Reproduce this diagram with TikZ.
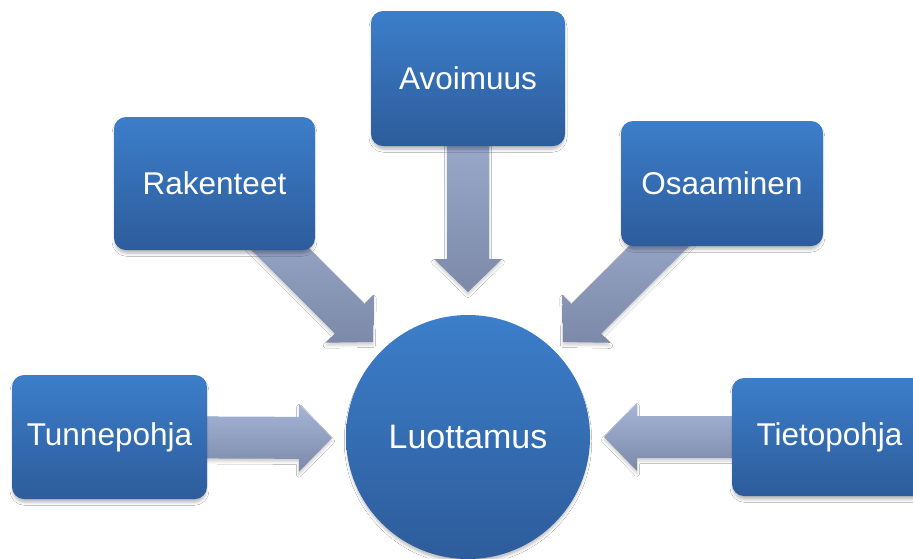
\documentclass[tikz,border=0pt]{standalone}
\usepackage{fontspec}
\setmainfont{Liberation Sans}
\usetikzlibrary{calc,backgrounds,shadows.blur}
\definecolor{boxtop}{RGB}{60,126,202}
\definecolor{boxbot}{RGB}{45,92,155}
\definecolor{arrtop}{RGB}{166,181,216}
\definecolor{arrbot}{RGB}{124,137,168}
\tikzset{
  boxshadow/.style={blur shadow={shadow xshift=0pt, shadow yshift=-4pt, shadow opacity=28, shadow blur radius=3pt, shadow scale=0.99}},
  boxnode/.style={rectangle, rounded corners=12pt, inner sep=0pt,
    top color=boxtop, bottom color=boxbot, draw=none, text=white,
    font=\fontsize{31.5}{36}\selectfont, boxshadow},
  circnode/.style={circle, inner sep=0pt, minimum size=244pt,
    top color=boxtop, bottom color=boxbot, draw=none, text=white,
    font=\fontsize{34}{40}\selectfont, boxshadow},
  arrowshade/.style={top color=arrtop, bottom color=arrbot,
    blur shadow={shadow xshift=0pt, shadow yshift=-3pt, shadow opacity=18, shadow blur radius=2.5pt}}
}
\newcommand\blockarrow[2]{%
  \coordinate (hb) at ($(#2)!33pt!(#1)$);
  \path[arrowshade] ($(#1)!21pt!90:(#2)$) -- ($(hb)!21pt!-90:(#1)$) -- ($(hb)!34pt!-90:(#1)$) -- (#2) -- ($(hb)!34pt!90:(#1)$) -- ($(hb)!21pt!90:(#1)$) -- ($(#1)!21pt!-90:(#2)$) -- cycle;}
\begin{document}
\begin{tikzpicture}[x=1pt,y=-1pt]
\useasboundingbox (0,0) rectangle (913,558);
% nodes
\node[circnode] (luot) at (468,437) {Luottamus};
\node[boxnode, minimum width=195pt, minimum height=124pt] (tunne) at (109.5,437) {Tunnepohja};
\node[boxnode, minimum width=201pt, minimum height=133pt] (rak) at (214.5,183.5) {Rakenteet};
\node[boxnode, minimum width=194pt, minimum height=135pt] (avo) at (468,78.5) {Avoimuus};
\node[boxnode, minimum width=202pt, minimum height=125pt] (osa) at (722,183.5) {Osaaminen};
\node[boxnode, minimum width=195pt, minimum height=118pt] (tieto) at (829.5,437) {Tietopohja};
% arrow tips
\coordinate (t1) at (332,438);
\coordinate (t2) at (373,342);
\coordinate (t3) at (468,292);
\coordinate (t4) at (563,342);
\coordinate (t5) at (604,437);
\begin{scope}[on background layer]
\fill[white] (0,0) rectangle (913,558);
\blockarrow{tunne.center}{t1}
\blockarrow{rak.center}{t2}
\blockarrow{avo.center}{t3}
\blockarrow{osa.center}{t4}
\blockarrow{tieto.center}{t5}
\end{scope}
\end{tikzpicture}
\end{document}
